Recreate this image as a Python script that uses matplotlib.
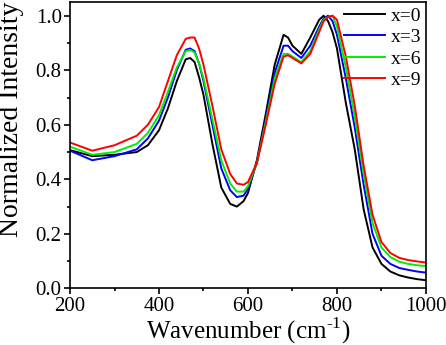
import numpy as np
import matplotlib.pyplot as plt
from matplotlib.ticker import MultipleLocator

plt.rcParams['font.family'] = ['Liberation Serif', 'DejaVu Serif']
plt.rcParams['mathtext.fontset'] = 'custom'
plt.rcParams['mathtext.rm'] = 'Liberation Serif'

wn = [200, 250, 300, 350, 375, 400, 420, 440, 460, 470, 480, 490, 500, 520, 540,
      560, 575, 590, 600, 620, 640, 660, 680, 690, 700, 720, 740, 760, 770, 780,
      790, 800, 820, 840, 860, 880, 900, 920, 940, 960, 980, 1000]

x0 = [.507, .485, .49, .50, .525, .58, .66, .76, .84, .845, .83, .775, .71, .53, .37,
      .31, .30, .32, .35, .47, .64, .82, .93, .92, .89, .86, .92, .985, 1.0, .98,
      .94, .88, .68, .51, .29, .15, .09, .062, .048, .04, .034, .03]
x3 = [.505, .47, .485, .51, .55, .615, .70, .80, .875, .88, .87, .825, .76, .60, .44,
      .36, .335, .34, .365, .46, .62, .79, .89, .89, .87, .845, .89, .96, .99, 1.0,
      .98, .93, .77, .59, .38, .20, .12, .09, .075, .068, .062, .058]
x6 = [.52, .49, .50, .53, .57, .635, .72, .81, .87, .875, .865, .825, .77, .62, .47,
      .385, .355, .355, .375, .46, .61, .77, .86, .86, .85, .83, .87, .95, .985, .995,
      1.0, .96, .81, .63, .42, .24, .15, .115, .098, .09, .085, .082]
x9 = [.535, .505, .525, .56, .60, .665, .76, .855, .915, .92, .92, .88, .82, .67, .51,
      .42, .385, .38, .39, .46, .60, .75, .85, .855, .845, .825, .86, .94, .98, .995,
      1.0, .985, .85, .67, .45, .27, .17, .13, .112, .104, .099, .095]

labels = ['x=0', 'x=3', 'x=6', 'x=9']
colors = ['black', 'blue', '#00ee00', 'red']

fig = plt.figure(figsize=(4.46, 3.45), dpi=100)
ax = fig.add_axes([0.157, 0.164, 0.798, 0.83])

for y, lab, c in zip([x0, x3, x6, x9], labels, colors):
    ax.plot(wn, y, color=c, lw=1.4, label=lab)

ax.set_xlim(200, 1000)
ax.set_ylim(0, 1.05)
ax.xaxis.set_major_locator(MultipleLocator(200))
ax.xaxis.set_minor_locator(MultipleLocator(100))
ax.yaxis.set_major_locator(MultipleLocator(0.2))
ax.yaxis.set_minor_locator(MultipleLocator(0.1))
ax.yaxis.set_major_formatter(plt.FormatStrFormatter('%.1f'))
ax.tick_params(which='both', direction='out', top=False, right=False, labelsize=15, width=1.2, pad=2)
ax.tick_params(which='major', length=4)
ax.tick_params(which='minor', length=2.5)
for s in ax.spines.values():
    s.set_linewidth(1.2)

ax.set_xlabel(r'Wavenumber (cm$^{\mathrm{\text{-}1}}$)', fontsize=18, labelpad=-0.5)
ax.set_ylabel('Normalized Intensity', fontsize=20)
ax.yaxis.set_label_coords(-0.13, 0.59)

ax.legend(loc='upper right', frameon=False, fontsize=14, handlelength=2.1,
          handletextpad=0.3, labelspacing=0.2, borderaxespad=0.0, borderpad=0.25)

fig.savefig('out.png', dpi=100)
